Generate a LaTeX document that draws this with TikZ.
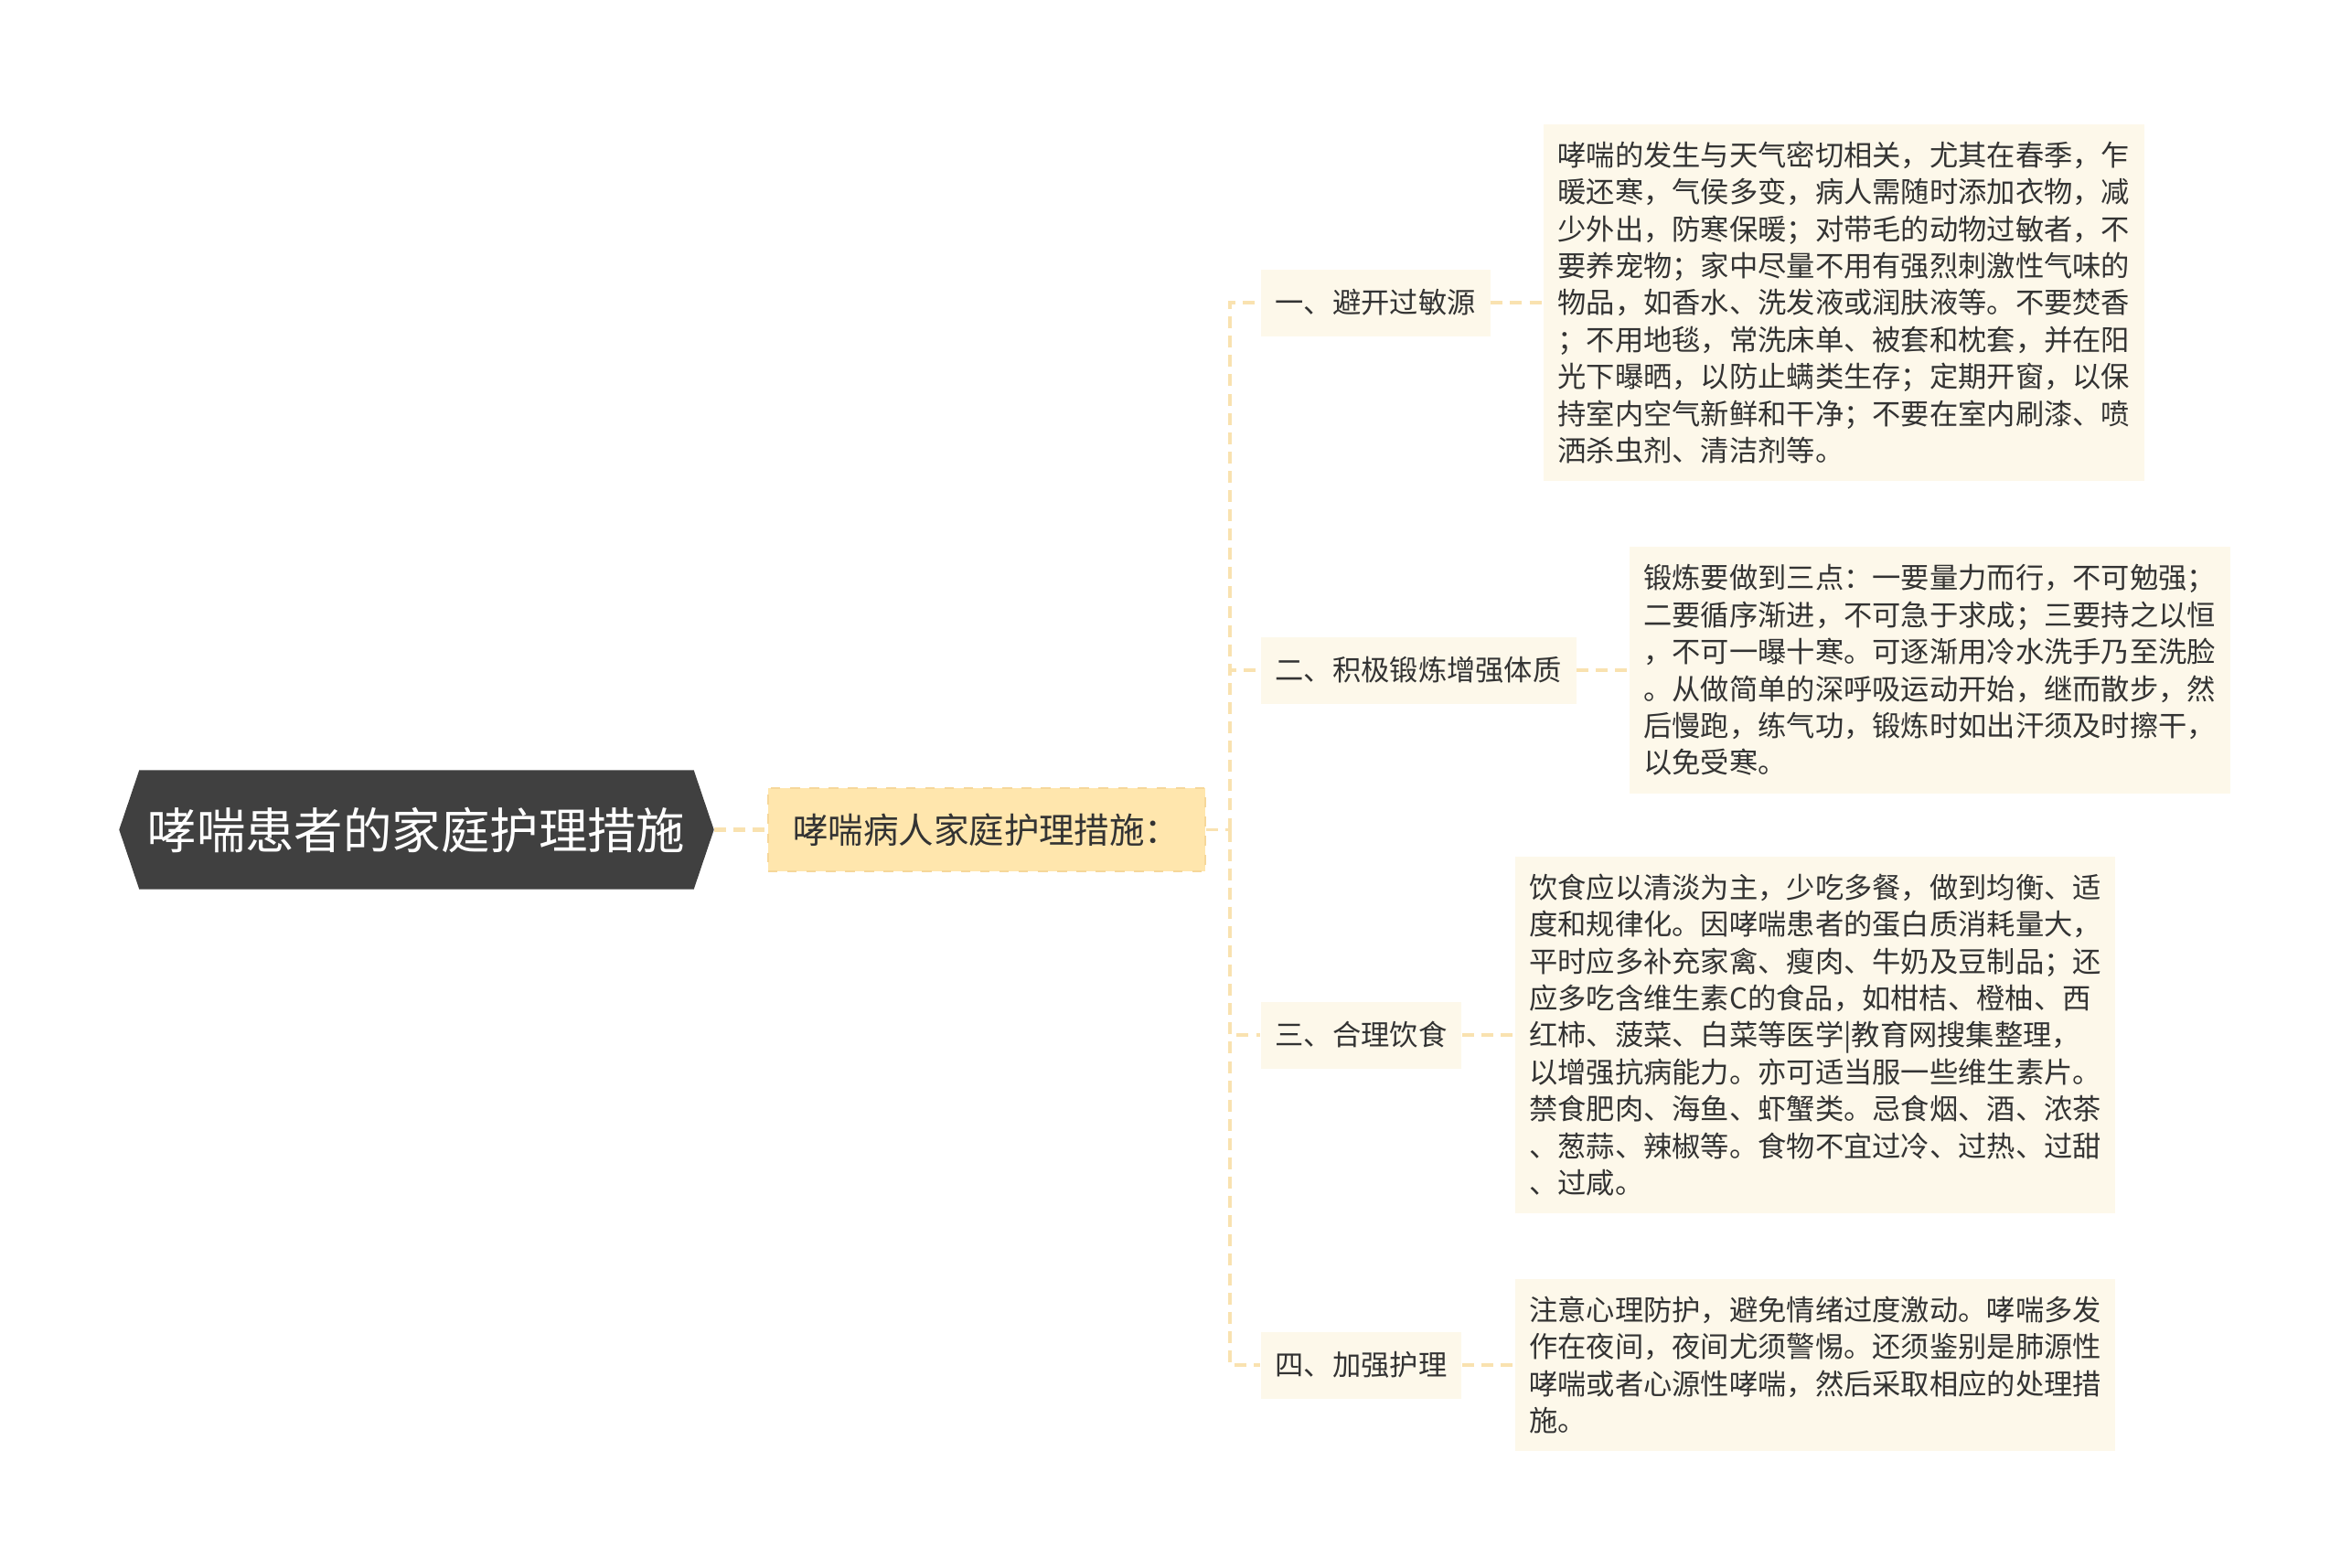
\documentclass[tikz,border=0pt]{standalone}
\usepackage{fontspec}
\newfontfamily\cjk{Noto Sans CJK SC}
\usetikzlibrary{positioning,backgrounds}
\definecolor{rodgraa}{HTML}{404040}
\definecolor{gulfyld}{HTML}{FFE6AD}
\definecolor{gulkant}{HTML}{F6D79A}
\definecolor{creme}{HTML}{FDF8EA}
\definecolor{linjefarve}{HTML}{F9E2B0}
\definecolor{tekst}{HTML}{333333}

\begin{document}
\begin{tikzpicture}[
  rodboks/.style={text=white,inner sep=0pt,minimum width=6.05cm,minimum height=1.29cm,font=\cjk\fontsize{15.2pt}{18pt}\selectfont},
  emneboks/.style={fill=gulfyld,draw=gulkant,dashed,line width=0.6pt,minimum width=4.78cm,minimum height=0.91cm,font=\cjk\fontsize{10.95pt}{13pt}\selectfont,text=tekst},
  grenboks/.style={fill=creme,inner xsep=0.16cm,minimum height=0.73cm,font=\cjk\fontsize{8.9pt}{11.5pt}\selectfont,text=tekst},
  bladboks/.style={fill=creme,inner xsep=0.155cm,inner ysep=0.19cm,align=left,font=\cjk\fontsize{8.9pt}{11.5pt}\selectfont,text=tekst},
  forbindelse/.style={draw=linjefarve,line width=0.9pt,dash pattern=on 3.7pt off 2.3pt},
]
  %ramme
  	\useasboundingbox (0,0) rectangle (25.6,-17.14);

  %rod (sekskant)
  	\node[rodboks] (rod) at (4.555,-9.075) {哮喘患者的家庭护理措施};
  	\coordinate (rodspids) at ([xshift=0.22cm]rod.east);
  	\begin{scope}[on background layer]
  	\fill[rodgraa] (rod.north west) -- (rod.north east) -- (rodspids) -- (rod.south east)
  	  -- (rod.south west) -- ([xshift=-0.22cm]rod.west) -- cycle;
  	\end{scope}

  %emne
  	\node[emneboks, right=0.8cm of rod] (emne) {哮喘病人家庭护理措施：};
  	\draw[forbindelse,line width=1.2pt] (rodspids) -- (emne.west);

  %grene
  	\node[grenboks, anchor=west] (gren1) at (13.78,-3.31) {一、避开过敏源};
  	\node[grenboks, anchor=west] (gren2) at (13.78,-7.33) {二、积极锻炼增强体质};
  	\node[grenboks, anchor=west] (gren3) at (13.78,-11.32) {三、合理饮食};
  	\node[grenboks, anchor=west] (gren4) at (13.78,-14.93) {四、加强护理};

  %blade
  	\node[bladboks, right=0.57cm of gren1] (blad1) {哮喘的发生与天气密切相关，尤其在春季，乍\\
  	  暖还寒，气侯多变，病人需随时添加衣物，减\\
  	  少外出，防寒保暖；对带毛的动物过敏者，不\\
  	  要养宠物；家中尽量不用有强烈刺激性气味的\\
  	  物品，如香水、洗发液或润肤液等。不要焚香\\
  	  ；不用地毯，常洗床单、被套和枕套，并在阳\\
  	  光下曝晒，以防止螨类生存；定期开窗，以保\\
  	  持室内空气新鲜和干净；不要在室内刷漆、喷\\
  	  洒杀虫剂、清洁剂等。};
  	\node[bladboks, right=0.57cm of gren2] (blad2) {锻炼要做到三点：一要量力而行，不可勉强；\\
  	  二要循序渐进，不可急于求成；三要持之以恒\\
  	  ，不可一曝十寒。可逐渐用冷水洗手乃至洗脸\\
  	  。从做简单的深呼吸运动开始，继而散步，然\\
  	  后慢跑，练气功，锻炼时如出汗须及时擦干，\\
  	  以免受寒。};
  	\node[bladboks, right=0.57cm of gren3] (blad3) {饮食应以清淡为主，少吃多餐，做到均衡、适\\
  	  度和规律化。因哮喘患者的蛋白质消耗量大，\\
  	  平时应多补充家禽、瘦肉、牛奶及豆制品；还\\
  	  应多吃含维生素C的食品，如柑桔、橙柚、西\\
  	  红柿、菠菜、白菜等医学|教育网搜集整理，\\
  	  以增强抗病能力。亦可适当服一些维生素片。\\
  	  禁食肥肉、海鱼、虾蟹类。忌食烟、酒、浓茶\\
  	  、葱蒜、辣椒等。食物不宜过冷、过热、过甜\\
  	  、过咸。};
  	\node[bladboks, right=0.57cm of gren4] (blad4) {注意心理防护，避免情绪过度激动。哮喘多发\\
  	  作在夜间，夜间尤须警惕。还须鉴别是肺源性\\
  	  哮喘或者心源性哮喘，然后采取相应的处理措\\
  	  施。};

  %forbindelser
  	\coordinate (deling) at (13.45,-9.075);
  	\draw[forbindelse] (emne.east) -- (deling);
  	\foreach \i in {1,...,4} \draw[forbindelse] (deling) |- (gren\i.west);
  	\foreach \i in {1,...,4} \draw[forbindelse] (gren\i) -- (blad\i);
\end{tikzpicture}
\end{document}
